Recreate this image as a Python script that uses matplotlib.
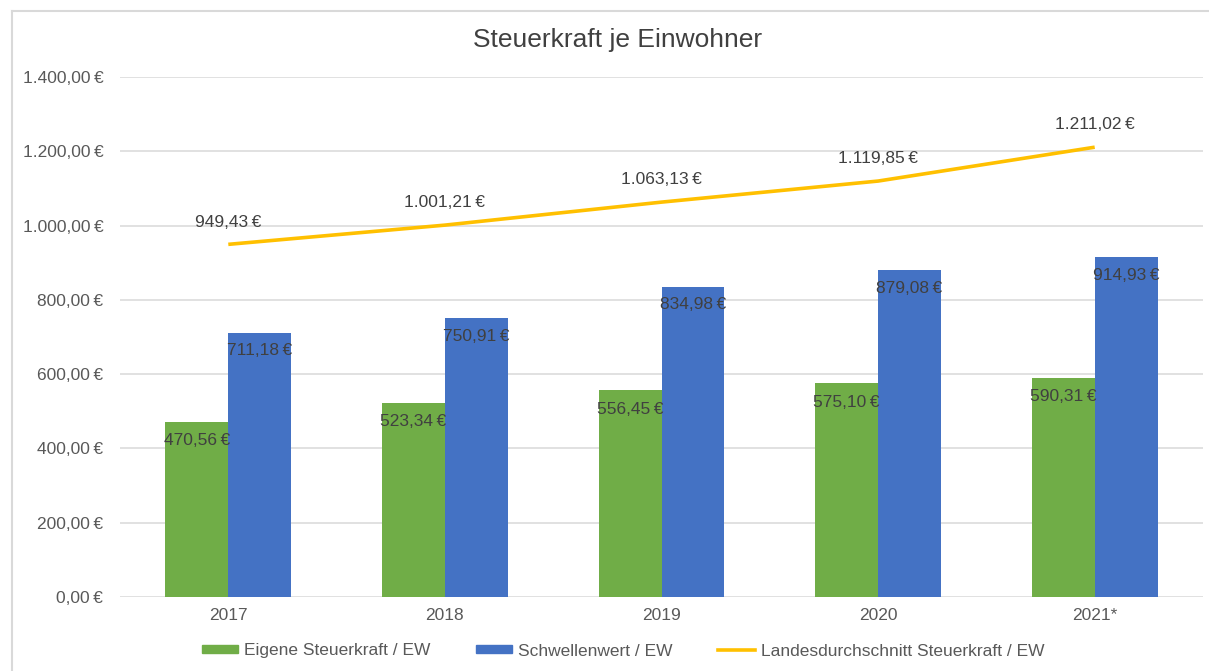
import matplotlib
matplotlib.use("Agg")
import matplotlib.pyplot as plt
from matplotlib.lines import Line2D
from matplotlib.patches import Patch
import numpy as np

categories = ["2017", "2018", "2019", "2020", "2021*"]
eigene = [470.56, 523.34, 556.45, 575.10, 590.31]
schwelle = [711.18, 750.91, 834.98, 879.08, 914.93]
landes = [949.43, 1001.21, 1063.13, 1119.85, 1211.02]
yticks = [0, 200, 400, 600, 800, 1000, 1200, 1400]

title = "Steuerkraft je Einwohner"
names = ["Eigene Steuerkraft / EW", "Schwellenwert / EW", "Landesdurchschnitt Steuerkraft / EW"]

GREEN = "#70AD47"
BLUE = "#4472C4"
YELLOW = "#FFC000"
TXT = "#404040"
TICK = "#595959"
GRID = "#D9D9D9"
FS = 12.5

plt.rcParams['font.family'] = ['Liberation Sans', 'DejaVu Sans']


def eur(v):
    s = f"{v:,.2f}"
    s = s.replace(",", "X").replace(".", ",").replace("X", ".")
    return s + "\u202f€"


fig = plt.figure(figsize=(12.09, 6.71), dpi=100)
# outer chart border (top and left visible)
fig.add_artist(Line2D([12/1209, 1.0], [1 - 11/671, 1 - 11/671], transform=fig.transFigure,
                      color="#D9D9D9", lw=1.5))
fig.add_artist(Line2D([12/1209, 12/1209], [0, 1 - 11/671], transform=fig.transFigure,
                      color="#D9D9D9", lw=1.5))

ax = fig.add_axes([120/1209, 74/671, (1203-120)/1209, (597-77)/671])
x = np.arange(len(categories))
w = 0.29
ax.bar(x - w/2, eigene, w, color=GREEN, zorder=3)
ax.bar(x + w/2, schwelle, w, color=BLUE, zorder=3)
ax.plot(x, landes, color=YELLOW, lw=2.6, zorder=4, solid_capstyle="butt")

ax.set_xlim(-0.5, len(categories) - 0.5)
ax.set_ylim(0, 1400)
ax.set_yticks(yticks)
ax.set_yticklabels([eur(v) for v in yticks])
ax.set_xticks(x)
ax.set_xticklabels(categories)
ax.tick_params(axis="both", length=0, labelsize=FS, colors=TICK, pad=8)
ax.tick_params(axis="y", pad=12)
ax.grid(axis="y", color=GRID, lw=1.1, zorder=0)
for s in ax.spines.values():
    s.set_visible(False)

for xi, v in zip(x, eigene):
    ax.annotate(eur(v), (xi - w/2, v), xytext=(0, -13.5), textcoords="offset points",
                ha="center", va="center", fontsize=FS, color=TXT, zorder=5)
for xi, v in zip(x, schwelle):
    ax.annotate(eur(v), (xi + w/2, v), xytext=(0, -13), textcoords="offset points",
                ha="center", va="center", fontsize=FS, color=TXT, zorder=5)
for xi, v in zip(x, landes):
    ax.annotate(eur(v), (xi, v), xytext=(0, 16), textcoords="offset points",
                ha="center", va="center", fontsize=FS, color=TXT, zorder=5)

fig.text(618/1209, 1 - 40/671, title, ha="center", va="center", fontsize=19, color=TXT)

handles = [Patch(color=GREEN), Patch(color=BLUE), Line2D([0], [0], color=YELLOW, lw=2.6)]
leg = fig.legend(handles, names, loc="center", bbox_to_anchor=(623/1209, 1 - 651/671), ncol=3,
                 frameon=False, fontsize=FS, handlelength=2.1, handleheight=0.35,
                 handletextpad=0.35, columnspacing=2.6)
for t in leg.get_texts():
    t.set_color(TICK)

fig.savefig("out.png", dpi=100)
